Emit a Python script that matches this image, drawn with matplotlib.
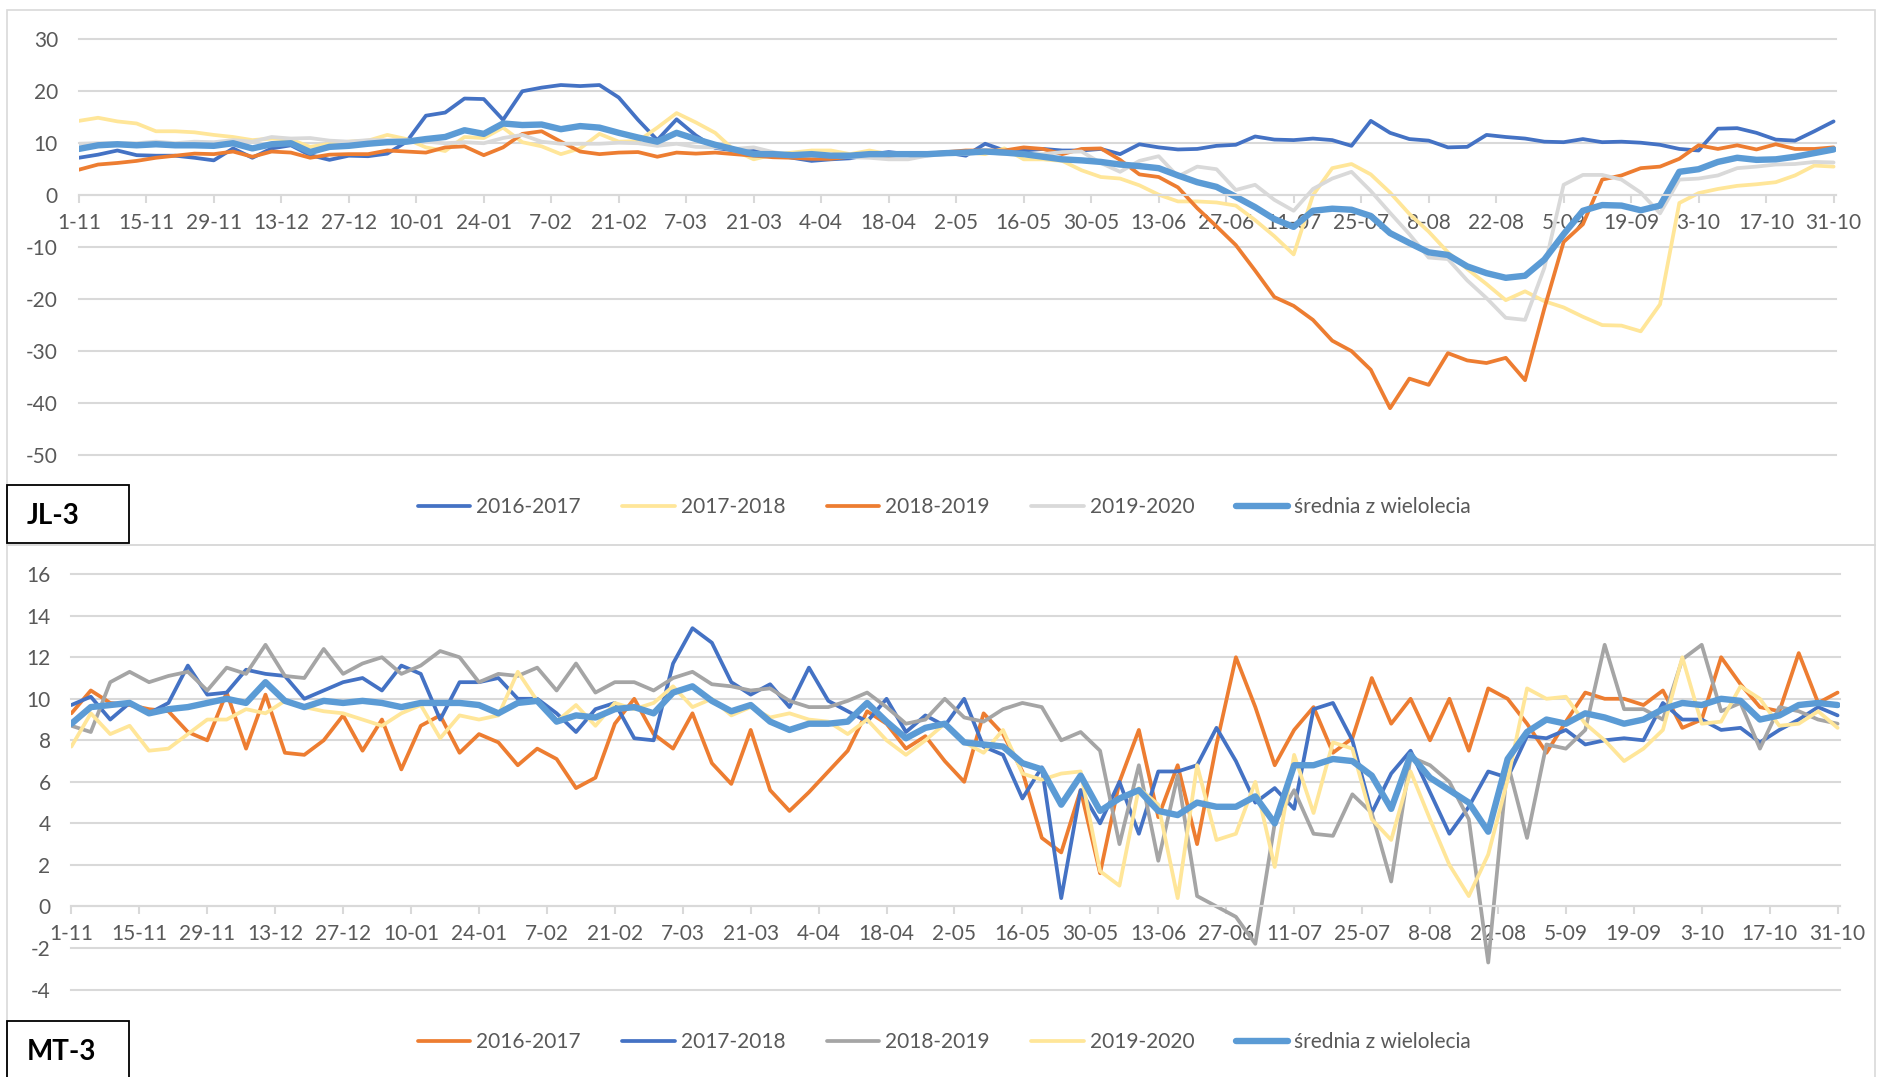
import matplotlib
matplotlib.use('Agg')
import matplotlib.pyplot as plt
from matplotlib.patches import Rectangle
import numpy as np

# figure size in pixels (dpi = 100)
W, H = 1877, 1077

# one value every 4 days, day 0 = 1-11, day 364 = 31-10
days = np.arange(0, 365, 4)
tick_days = np.arange(0, 365, 14)
tick_labels = ['1-11', '15-11', '29-11', '13-12', '27-12', '10-01', '24-01', '7-02', '21-02',
               '7-03', '21-03', '4-04', '18-04', '2-05', '16-05', '30-05', '13-06', '27-06',
               '11-07', '25-07', '8-08', '22-08', '5-09', '19-09', '3-10', '17-10', '31-10']

series_names = ['2016-2017', '2017-2018', '2018-2019', '2019-2020', 'średnia z wielolecia']

# ---- JL-3 ----
jl3_2016 = [7.2, 7.8, 8.6, 7.7, 7.6, 7.6, 7.2, 6.7, 9.0, 7.2, 9.0, 9.6, 7.7, 6.8, 7.6,
            7.5, 8.0, 10.3, 15.3, 15.9, 18.6, 18.5, 14.5, 20.0, 20.7, 21.2, 21.0, 21.2, 18.8,
            14.5, 10.6, 14.6, 11.5, 9.1, 8.6, 8.6, 7.9, 7.2, 6.6, 6.9, 7.1, 7.8, 8.3, 7.9,
            7.9, 8.2, 7.6, 9.9, 8.6, 8.6, 8.9, 8.6, 8.6, 8.9, 7.9, 9.8, 9.2, 8.8, 8.9, 9.5,
            9.7, 11.3,
            10.7, 10.6, 10.9, 10.6, 9.5, 14.3, 12.0, 10.8, 10.5, 9.2, 9.3, 11.6, 11.2, 10.9,
            10.3, 10.2, 10.8, 10.2, 10.3, 10.1, 9.7, 8.9, 8.6, 12.8, 12.9, 12.0, 10.7, 10.5,
            12.3, 14.2]
jl3_2017 = [14.3, 14.9, 14.2, 13.8, 12.3, 12.3, 12.1, 11.6, 11.2, 10.6, 10.9, 10.7, 9.3, 9.9,
            10.3, 10.5, 11.6, 10.8, 9.2, 8.5, 11.2, 11.0, 13.0, 10.2, 9.4, 7.9, 9.0, 11.8, 10.3,
            10.4, 13.0, 15.8, 14.0, 12.0, 8.6, 6.9, 7.8, 8.2, 8.6, 8.6, 7.9, 8.6, 7.9, 8.1,
            7.9, 7.9, 8.3, 7.9, 9.0, 6.9, 6.9, 6.6, 4.8, 3.5, 3.2, 1.9, 0.1, -1.2, -1.2, -1.4,
            -2.0, -4.8,
            -7.9, -11.4, 0.0, 5.2, 6.0, 4.0, 0.5, -3.6, -7.0, -11.0, -14.2, -17.1, -20.2, -18.5,
            -20.4, -21.6, -23.4, -25.0, -25.1, -26.2, -21.0, -1.5, 0.4, 1.2, 1.8, 2.1, 2.5, 3.8,
            5.7, 5.5]
jl3_2018 = [4.9, 5.9, 6.2, 6.6, 7.2, 7.6, 8.0, 7.9, 8.4, 7.4, 8.4, 8.2, 7.2, 7.8, 7.9,
            7.9, 8.6, 8.4, 8.2, 9.2, 9.4, 7.7, 9.2, 11.8, 12.3, 10.3, 8.4, 7.9, 8.2,
            8.3, 7.4, 8.2, 8.0, 8.2, 7.9, 7.6, 7.3, 7.2, 7.0, 7.0, 7.4, 7.6, 7.6, 7.9,
            8.0, 8.3, 8.6, 8.6, 8.6, 9.2, 8.9, 7.9, 8.9, 9.0, 6.8, 4.0, 3.5, 1.5, -2.5, -6.0,
            -9.6, -14.5,
            -19.6, -21.3, -24.0, -28.0, -30.0, -33.6, -41.0, -35.3, -36.5, -30.4, -31.8, -32.3,
            -31.3, -35.6, -21.8, -9.0, -5.6, 3.0, 3.8, 5.2, 5.5, 7.0, 9.6, 8.9, 9.6, 8.8,
            9.8, 8.9, 8.9, 9.2]
jl3_2019 = [9.9, 10.0, 10.0, 10.0, 10.3, 10.0, 10.3, 10.2, 10.6, 10.3, 11.2, 10.9, 11.0, 10.5,
            10.3, 10.6, 10.6, 10.6, 10.3, 10.0, 10.2, 10.0, 11.0, 11.6, 10.3, 9.9, 9.9, 9.9, 10.1,
            10.0, 9.5, 9.9, 9.3, 9.2, 8.9, 9.2, 8.3, 7.7, 7.6, 7.6, 7.3, 7.2, 6.9, 6.9,
            7.6, 7.9, 7.9, 8.3, 7.9, 7.9, 7.9, 8.3, 8.4, 6.2, 4.5, 6.6, 7.5, 3.6, 5.5, 5.0,
            1.0, 2.0,
            -0.9, -3.0, 1.2, 3.2, 4.5, 0.8, -3.4, -7.5, -12.0, -12.3, -16.4, -19.8, -23.6, -24.0,
            -14.0, 2.0, 3.9, 3.9, 3.0, 0.5, -3.5, 3.0, 3.2, 3.8, 5.2, 5.5, 5.9, 6.0,
            6.4, 6.3]
jl3_avg = [8.9, 9.6, 9.8, 9.6, 9.8, 9.6, 9.6, 9.5, 10.0, 9.0, 9.8, 10.0, 8.3, 9.3, 9.5,
           9.9, 10.2, 10.3, 10.8, 11.2, 12.5, 11.8, 13.8, 13.5, 13.6, 12.7, 13.3, 13.0, 12.0,
           11.1, 10.3, 12.0, 10.8, 9.7, 8.8, 7.9, 7.9, 7.7, 7.9, 7.6, 7.6, 7.9, 7.9, 7.9,
           7.9, 8.1, 8.2, 8.4, 8.2, 7.9, 7.4, 6.9, 6.7, 6.4, 5.9, 5.6, 5.2, 3.8, 2.5, 1.6,
           -0.3, -2.3,
           -4.6, -6.1, -3.0, -2.6, -2.8, -4.0, -7.3, -9.2, -11.0, -11.5, -13.7, -15.0, -15.9,
           -15.5, -12.4, -7.5, -3.0, -1.9, -2.0, -2.9, -2.0, 4.5, 5.0, 6.4, 7.2, 6.8, 6.9,
           7.4, 8.1, 8.8]

# ---- MT-3 ----
mt3_2016 = [9.3, 10.4, 9.8, 9.7, 9.5, 9.4, 8.4, 8.0, 10.3, 7.6,
            10.2, 7.4, 7.3, 8.0, 9.2, 7.5, 9.0, 6.6, 8.7, 9.2,
            7.4, 8.3, 7.9, 6.8, 7.6, 7.1, 5.7, 6.2, 8.8, 10.0,
            8.3, 7.6, 9.3, 6.9, 5.9, 8.5, 5.6, 4.6, 5.5, 6.5,
            7.5, 9.4, 8.8, 7.6, 8.2, 7.0, 6.0, 9.3, 8.3, 6.5,
            3.3, 2.6, 5.6, 1.6, 6.0, 8.5, 4.3, 6.8, 3.0, 7.8,
            12.0, 9.6, 6.8, 8.5, 9.6, 7.4, 8.1, 11.0, 8.8, 10.0,
            8.0, 10.0, 7.5, 10.5, 10.0, 8.8, 7.4, 8.9, 10.3, 10.0,
            10.0, 9.7, 10.4, 8.6, 9.0, 12.0, 10.7, 9.6, 9.4, 12.2,
            9.8, 10.3]
mt3_2017 = [9.7, 10.1, 9.0, 9.8, 9.3, 9.8, 11.6, 10.2, 10.3, 11.4, 11.2, 11.1, 10.0, 10.4, 10.8,
            11.0, 10.4, 11.6, 11.2, 9.0, 10.8, 10.8, 11.0, 10.0, 10.0, 9.3, 8.4, 9.5, 9.8, 8.1, 8.0,
            11.7, 13.4, 12.7, 10.8, 10.2, 10.7, 9.6, 11.5, 9.9, 9.4, 8.9, 10.0, 8.4, 9.2, 8.7,
            10.0, 7.7, 7.3, 5.2, 6.7, 0.4, 5.6, 4.0, 6.0, 3.5, 6.5, 6.5, 6.8, 8.6, 7.0,
            5.0, 5.7, 4.7, 9.5, 9.8, 8.0, 4.5, 6.4, 7.5, 5.5, 3.5, 4.8, 6.5, 6.2, 8.2, 8.1,
            8.5, 7.8, 8.0, 8.1, 8.0, 9.8, 9.0, 9.0, 8.5, 8.6, 7.9, 8.5, 9.0, 9.6, 9.2]
mt3_2018 = [8.7, 8.4, 10.8, 11.3, 10.8, 11.1, 11.3, 10.4, 11.5, 11.2, 12.6, 11.1, 11.0, 12.4, 11.2,
            11.7, 12.0, 11.2, 11.6, 12.3, 12.0, 10.8, 11.2, 11.1, 11.5, 10.4, 11.7, 10.3, 10.8,
            10.8, 10.4,
            11.0, 11.3, 10.7, 10.6, 10.4, 10.5, 9.9, 9.6, 9.6, 9.9, 10.3, 9.6, 8.8, 9.0, 10.0,
            9.1, 8.9, 9.5, 9.8, 9.6, 8.0, 8.4, 7.5, 3.0, 6.8, 2.2, 6.3, 0.5, 0.0, -0.5,
            -1.8, 4.0, 5.6, 3.5, 3.4, 5.4, 4.5, 1.2, 7.2, 6.8, 6.0, 4.2, -2.7, 6.9, 3.3, 7.8,
            7.6, 8.5, 12.6, 9.5, 9.5, 9.0, 11.9, 12.6, 9.4, 9.8, 7.6, 9.6, 9.4, 9.0, 8.8]
mt3_2019 = [7.7, 9.3, 8.3, 8.7, 7.5, 7.6, 8.3, 9.0, 9.0, 9.5, 9.3, 9.9, 9.6, 9.4, 9.3,
            9.0, 8.7, 9.3, 9.7, 8.1, 9.2, 9.0, 9.2, 11.3, 9.9, 8.9, 9.7, 8.7, 9.8, 9.5, 9.8,
            10.6, 9.6, 10.0, 9.2, 9.6, 9.1, 9.3, 9.0, 8.9, 8.3, 9.0, 8.0, 7.3, 8.0, 8.8,
            7.9, 7.4, 8.5, 6.4, 6.1, 6.4, 6.5, 1.7, 1.0, 5.7, 4.9, 0.4, 6.8, 3.2, 3.5,
            6.0, 1.9, 7.3, 4.5, 7.9, 7.6, 4.2, 3.2, 6.5, 4.2, 2.0, 0.5, 2.5, 6.1, 10.5, 10.0,
            10.1, 8.8, 8.0, 7.0, 7.6, 8.5, 12.0, 8.8, 8.9, 10.6, 10.0, 8.7, 8.8, 9.4, 8.6]
mt3_avg = [8.8, 9.6, 9.7, 9.8, 9.3, 9.5, 9.6, 9.8, 10.0, 9.8, 10.8, 9.9, 9.6, 9.9, 9.8,
           9.9, 9.8, 9.6, 9.8, 9.8, 9.8, 9.7, 9.3, 9.8, 9.9, 8.9, 9.2, 9.1, 9.5, 9.6, 9.3,
           10.3, 10.6, 9.9, 9.4, 9.7, 8.9, 8.5, 8.8, 8.8, 8.9, 9.8, 8.9, 8.1, 8.6, 8.8,
           7.9, 7.8, 7.7, 6.9, 6.6, 4.9, 6.3, 4.6, 5.2, 5.6, 4.6, 4.4, 5.0, 4.8, 4.8,
           5.3, 4.0, 6.8, 6.8, 7.1, 7.0, 6.3, 4.7, 7.3, 6.2, 5.6, 5.0, 3.6, 7.1, 8.4, 9.0,
           8.8, 9.3, 9.1, 8.8, 9.0, 9.5, 9.8, 9.7, 10.0, 9.9, 9.0, 9.2, 9.7, 9.8, 9.7]

jl3_colors = ['#4472C4', '#FFE699', '#ED7D31', '#D9D9D9', '#5B9BD5']
mt3_colors = ['#ED7D31', '#4472C4', '#A5A5A5', '#FFE699', '#5B9BD5']

TEXT = '#595959'
GRID = '#D9D9D9'
FS = 15

plt.rcParams['font.family'] = ['Lato', 'DejaVu Sans']
plt.rcParams['axes.unicode_minus'] = False


# pixel box (left, top, right, bottom) -> figure fraction [x, y, w, h]
def px_rect(x0, y0, x1, y1):
    return [x0 / W, 1 - y1 / H, (x1 - x0) / W, (y1 - y0) / H]


def draw_panel(fig, rect, series, colors, ylim, ystep, legend_xy):
    ax = fig.add_axes(rect)
    for i, (vals, col) in enumerate(zip(series, colors)):
        lw = 4.6 if i == len(series) - 1 else 2.7
        ax.plot(days, vals, color=col, lw=lw, label=series_names[i],
                solid_joinstyle='round', solid_capstyle='round')
    ax.set_xlim(0, 364.5)
    ax.set_ylim(*ylim)
    ax.set_yticks(np.arange(ylim[0], ylim[1] + ystep / 2, ystep))
    ax.set_xticks(tick_days)
    ax.set_xticklabels(tick_labels)
    ax.set_axisbelow(True)
    ax.yaxis.grid(True, color=GRID, lw=1.5)
    for gl in ax.get_ygridlines():
        gl.set_clip_on(False)
    for s in ['top', 'right', 'left']:
        ax.spines[s].set_visible(False)
    # the category axis crosses at 0
    ax.spines['bottom'].set_position(('data', 0))
    ax.spines['bottom'].set_color(GRID)
    ax.spines['bottom'].set_linewidth(1.5)
    ax.tick_params(axis='x', direction='out', length=6, width=1.5, color=GRID,
                   labelcolor=TEXT, labelsize=FS, pad=7)
    ax.tick_params(axis='y', length=0, labelcolor=TEXT, labelsize=FS, pad=15)
    ax.legend(loc='center', bbox_to_anchor=legend_xy, bbox_transform=fig.transFigure,
              ncol=5, frameon=False, fontsize=15, labelcolor=TEXT, handlelength=2.5,
              handletextpad=0.3, columnspacing=2.0)
    return ax


fig = plt.figure(figsize=(W / 100, H / 100), dpi=100)

# chart frames
fig.add_artist(Rectangle((7 / W, 1 - 545 / H), 1868 / W, 535 / H, transform=fig.transFigure,
                         fill=False, edgecolor=GRID, lw=1.2))
fig.add_artist(Rectangle((7 / W, 1 - 1090 / H), 1868 / W, 545 / H, transform=fig.transFigure,
                         fill=False, edgecolor=GRID, lw=1.2))

draw_panel(fig, px_rect(78.8, 39.3, 1836, 455),
           [jl3_2016, jl3_2017, jl3_2018, jl3_2019, jl3_avg], jl3_colors,
           (-50, 30), 10, (944.5 / W, 1 - 507 / H))
draw_panel(fig, px_rect(71.4, 574.2, 1840, 989.5),
           [mt3_2016, mt3_2017, mt3_2018, mt3_2019, mt3_avg], mt3_colors,
           (-4, 16), 2, (944.5 / W, 1 - 1042 / H))

# station name boxes
for name, top, bottom, ty in [('JL-3', 485, 543, 516), ('MT-3', 1021, 1090, 1052)]:
    fig.add_artist(Rectangle((7 / W, 1 - bottom / H), 121.6 / W, (bottom - top) / H,
                             transform=fig.transFigure, fill=False, edgecolor='black', lw=1.3))
    fig.text(27 / W, 1 - ty / H, name, fontsize=20, fontweight='bold', color='black',
             ha='left', va='center')

fig.savefig('out.png', dpi=100, facecolor='white')
